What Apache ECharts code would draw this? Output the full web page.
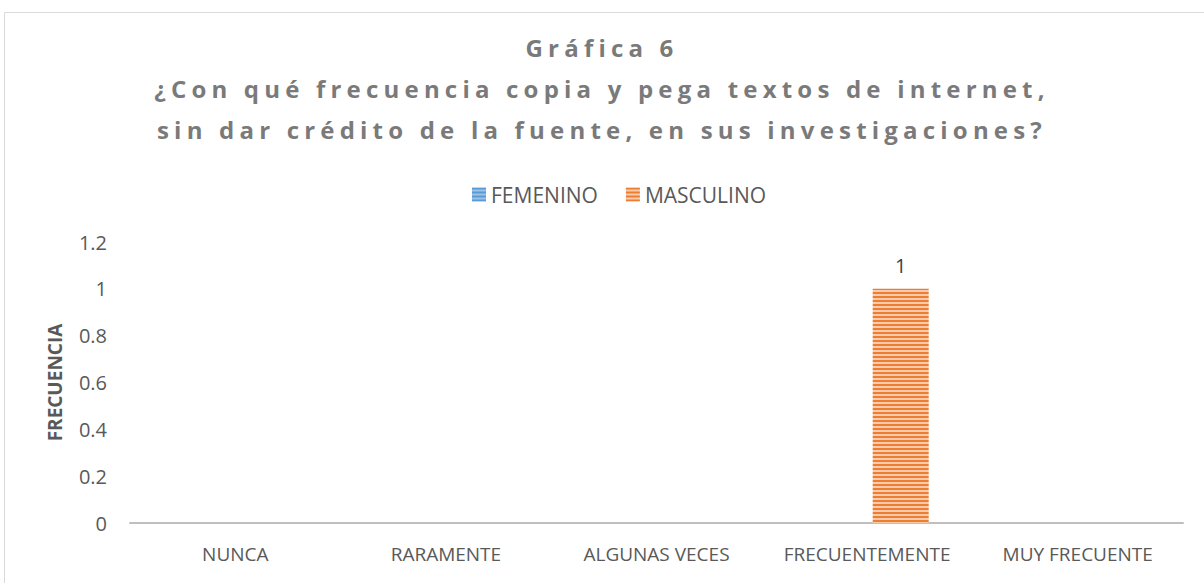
<!DOCTYPE html>
<html>
<head>
<meta charset="utf-8">
<script src="https://cdn.jsdelivr.net/npm/echarts@6/dist/echarts.min.js"></script>
<style>
html,body{margin:0;padding:0;background:#fff;}
#chart{width:1204px;height:583px;}
</style>
</head>
<body>
<div id="chart"></div>
<script>
const titleLines = ['Gráfica 6', '¿Con qué frecuencia copia y pega textos de internet,', 'sin dar crédito de la fuente, en sus investigaciones?'];
const categories = ['NUNCA', 'RARAMENTE', 'ALGUNAS VECES', 'FRECUENTEMENTE', 'MUY FRECUENTE'];
const seriesNames = ['FEMENINO', 'MASCULINO'];
const femenino = [null, null, null, null, null];
const masculino = [null, null, null, 1, null];
const yTicks = { min: 0, max: 1.2, interval: 0.2 };
const yAxisName = 'FRECUENCIA';

function stripePattern(dark, light) {
  const c = document.createElement('canvas');
  c.width = 4; c.height = 4;
  const ctx = c.getContext('2d');
  ctx.fillStyle = light; ctx.fillRect(0, 0, 4, 4);
  ctx.fillStyle = dark; ctx.fillRect(0, 0, 4, 2);
  return { image: c, repeat: 'repeat' };
}

const chart = echarts.init(document.getElementById('chart'), null, { renderer: 'svg' });
const txt = '#595959';
const font = '"Open Sans", "Liberation Sans", sans-serif';
chart.setOption({
  animation: false,
  textStyle: { fontFamily: font },
  title: {
    text: titleLines.join('\n'),
    left: 'center', top: 22,
    textStyle: { fontSize: 24, fontWeight: 'bold', color: '#7a7a7a', lineHeight: 41, fontFamily: font }
  },
  legend: {
    top: 179, left: 467,
    itemWidth: 14, itemHeight: 14, itemGap: 28,
    icon: 'rect',
    textStyle: { fontSize: 21, color: txt, fontFamily: font }
  },
  graphic: [{
    type: 'rect', left: 2, top: 10, silent: true,
    shape: { width: 1300, height: 700 },
    style: { fill: 'none', stroke: '#d9d9d9', lineWidth: 1 }
  }],
  grid: { left: 130, right: 21, top: 242, bottom: 60 },
  xAxis: {
    type: 'category', data: categories,
    axisLine: { lineStyle: { color: '#bfbfbf', width: 2 } },
    axisTick: { show: false },
    axisLabel: { fontSize: 19, color: txt, margin: 21, interval: 0 }
  },
  yAxis: {
    type: 'value', min: yTicks.min, max: yTicks.max, interval: yTicks.interval,
    name: yAxisName, nameLocation: 'middle', nameGap: 66, nameRotate: 90,
    nameTextStyle: { fontSize: 19, fontWeight: 'bold', color: txt },
    axisLine: { show: false }, axisTick: { show: false },
    splitLine: { show: false },
    axisLabel: { fontSize: 20, color: txt, margin: 23 }
  },
  series: [
    { name: seriesNames[0], type: 'bar', data: femenino, barWidth: 56, barGap: '20%',
      itemStyle: { color: stripePattern('#5b9bd5', '#9dc3e6') },
      label: { show: true, position: 'top', fontSize: 20, color: '#404040', distance: 13 } },
    { name: seriesNames[1], type: 'bar', data: masculino, barWidth: 56, barGap: '20%',
      itemStyle: { color: stripePattern('#ed7d31', '#f8cbad') },
      label: { show: true, position: 'top', fontSize: 20, color: '#404040', distance: 13 } }
  ]
});

function spaceTitle() {
  document.querySelectorAll('#chart svg text').forEach(t => {
    if (titleLines.some(l => t.textContent.indexOf(l) >= 0 || l.indexOf(t.textContent) >= 0 && t.textContent.length > 5)) {
      t.setAttribute('letter-spacing', '5.2px');
    }
  });
}
spaceTitle();
chart.on('finished', spaceTitle);
</script>
</body>
</html>
